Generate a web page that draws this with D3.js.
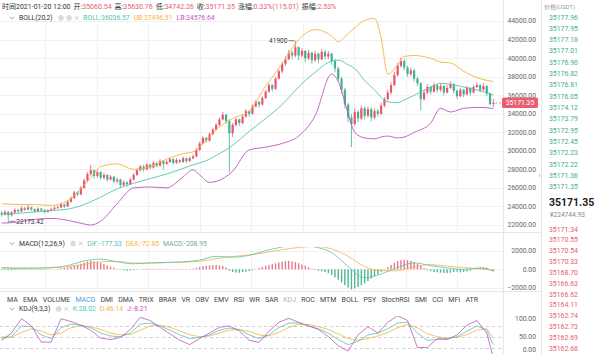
<!DOCTYPE html>
<html><head><meta charset="utf-8">
<script src="https://cdn.jsdelivr.net/npm/d3@7/dist/d3.min.js"></script>
<style>html,body{margin:0;padding:0;background:#fff;overflow:hidden}</style>
</head><body>
<svg id="c" width="600" height="354"></svg>
<script>
// ---------------- DATA ----------------
const headerLabels=["时间","开:","高:","低:","收:","涨幅:","振幅:"];
const headerValues=["2021-01-20 12:00","35060.54","35630.76","34742.26","35171.35","0.33%(115.01)","2.53%"];
const priceTicks=[44000,42000,40000,38000,36000,34000,32000,30000,28000,26000,24000,22000];
const macdTicks=[2000,0,-2000];
const kdjTicks=[100,50,0];
const kdjLevels=[80,50,20];
const tabs=["MA","EMA","VOLUME","MACD","DMI","DMA","TRIX","BRAR","VR","OBV","EMV","RSI","WR","SAR","KDJ","ROC","MTM","BOLL","PSY","StochRSI","SMI","CCI","MFI","ATR"];
const askPrices=["35177.96","35177.95","35177.18","35177.01","35176.90","35176.82","35176.81","35176.05","35174.12","35173.79","35172.95","35172.45","35172.23","35172.22","35171.36","35171.35"];
const bidPrices=["35171.34","35170.55","35170.54","35170.33","35168.70","35166.63","35166.62","35164.11","35162.74","35162.73","35162.69","35162.68"];
const lastPrice=35171.35, lastCny="¥224744.93";
const maxLabel={i:89,v:41900,t:"41900"}, minLabel={i:2,v:22173.42,t:"22173.42"};

const opens=[23300,23150,23400,23050,23350,23600,23450,23800,23650,23900,23700,23500,23750,23600,23400,23550,23700,
23850,23900,24200,24000,24500,24900,25500,25300,26000,26800,27500,
27900,27300,27700,27100,27400,26900,27200,26700,26900,26300,26600,
26400,26900,27400,27900,28300,28000,28500,28200,28700,28400,28900,28600,28800,29100,28700,29000,28800,29200,28900,29200,
29400,30100,30800,31400,31100,31800,32300,32800,33400,33900,33200,
31900,32800,33400,33000,33700,34300,34000,34800,35300,35000,35700,36400,37100,36700,37800,38600,39400,39900,40600,40300,
41200,40300,40800,40000,40600,39800,40500,39900,40700,40200,
40500,39700,38900,37800,36600,35000,33600,
32900,34200,33500,34600,33800,34500,33600,34300,34000,
34900,35600,36300,37100,38200,39200,
39700,39000,38300,38700,37800,37300,
35600,36300,36900,36400,37100,36600,37000,36300,36800,
37200,36500,35900,36600,36100,36800,36300,36900,37100,36600,37000,36200,35060.54];
const closes=[23150,23400,23050,23350,23600,23450,23800,23650,23900,23700,23500,23750,23600,23400,23550,23700,23850,
23900,24200,24000,24500,24900,25500,25300,26000,26800,27500,27900,
27300,27700,27100,27400,26900,27200,26700,26900,26300,26600,26400,
26900,27400,27900,28300,28000,28500,28200,28700,28400,28900,28600,28800,29100,28700,29000,28800,29200,28900,29200,29400,
30100,30800,31400,31100,31800,32300,32800,33400,33900,33200,31900,
32800,33400,33000,33700,34300,34000,34800,35300,35000,35700,36400,37100,36700,37800,38600,39400,39900,40600,40300,41200,
40300,40800,40000,40600,39800,40500,39900,40700,40200,40500,
39700,38900,37800,36600,35000,33600,32900,
34200,33500,34600,33800,34500,33600,34300,34000,34900,
35600,36300,37100,38200,39200,39700,
39000,38300,38700,37800,37300,35600,
36300,36900,36400,37100,36600,37000,36300,36800,37200,
36500,35900,36600,36100,36800,36300,36900,37100,36600,37000,36200,35060.54,35171.35];
const highs=[23500,23600,23500,23500,23800,23750,24000,23950,24200,24000,23800,23900,23850,23700,23700,23850,24000,
24100,24400,24300,24650,25100,25700,25650,26200,27000,27700,28500,
28000,27900,27800,27600,27500,27400,27300,27100,27000,26800,26700,
27100,27600,28100,28500,28500,28700,28600,28900,28800,29100,29000,29000,29300,29200,29200,29100,29400,29300,29400,29600,
30300,31000,31600,31500,32000,32500,33000,33600,34200,34000,33400,
33000,33600,33500,33900,34500,34400,35000,35500,35400,35900,36600,37300,37200,38000,38800,39600,40200,40900,40800,41900,
41300,41100,40900,40900,40700,40800,40600,41000,40900,40800,
40600,39900,39100,38000,36800,35200,34000,
34600,34400,34900,34800,34800,34700,34600,34500,35200,
35800,36600,37400,38500,39500,40100,
39900,39200,39000,38900,38000,37400,
36600,37200,37000,37400,37200,37300,37100,37100,37500,
37300,36600,36800,36700,37000,36900,37100,37400,37200,37300,37100,36300,35630.76];
const lows=[22900,23000,22173.42,22900,23250,23300,23400,23500,23600,23500,23300,23400,23450,23250,23300,23450,23600,
23700,23800,23850,23950,24400,24800,25100,25200,25900,26600,27300,
27000,27100,26900,26900,26700,26800,26500,26500,26100,26200,26100,
26300,26800,27300,27800,27800,27900,28000,28100,28200,28300,28000,28500,28700,28500,28600,28600,28700,28700,28800,29100,
29300,30000,30700,30900,31000,31700,32200,32700,33300,32900,27700,
31500,32600,32700,32900,33600,33700,33900,34700,34700,34900,35600,36300,36400,36600,37700,38400,39200,39800,39900,40100,
39800,40100,39600,39800,39400,39600,39500,39800,39900,39900,
39300,38500,37500,36200,34600,33100,30400,
32700,33100,33300,33400,33600,33200,33400,33700,33900,
34700,35400,36100,37000,38000,39000,
38700,38000,38100,37500,37000,34400,
35400,36100,36100,36300,36300,36400,36000,36200,36700,
36200,35600,35800,35800,36000,36000,36200,36800,36300,36500,35900,34900,34742.26];

const bollIdx=[0,5,10,15,20,25,27,30,35,40,45,50,55,58,60,63,65,70,75,80,85,90,95,100,102,105,107,110,113,115,117,120,122,125,130,133,136,140,145,149];
const bollMB=[23150,23250,23400,23550,23700,24200,24500,25000,25900,26500,27000,27500,28100,28500,28700,29100,29500,30600,32100,33500,35000,36900,38500,39700,39800,39300,38900,37600,36600,35800,35300,35200,35500,36000,36900,37300,37200,36900,36500,36036.57];
const bollUB=[24300,24200,24200,24100,24600,26300,27100,28300,28600,28000,28300,29100,29700,29900,30400,31600,32300,33500,34300,37000,39400,42000,43100,42400,41800,42700,43300,44100,44300,42200,38300,39300,40200,40300,40000,39600,39500,38600,37800,37496.51];
const bollLB=[22200,22300,22600,22700,22500,22100,21980,22400,24300,26000,26100,26000,27200,27950,27400,26600,26700,27800,30100,30400,30800,31600,33800,38300,37500,34000,32000,31400,31300,31500,31600,31400,31500,32000,33000,34600,34200,34600,34700,34576.64];

const macdHist=[-60,-80,-100,-90,-70,-50,-40,-30,-20,-30,-40,-50,-40,-30,-20,-10,
20,60,110,150,220,300,420,480,600,720,850,920,860,800,680,560,430,300,
180,60,-40,-100,-150,-130,-90,-40,10,
40,70,60,80,50,70,40,50,60,30,40,50,30,40,60,80,
150,260,350,380,420,450,470,430,380,
200,-150,-280,-330,-360,-300,-250,-180,-100,
50,150,260,380,480,560,650,740,820,880,900,860,780,650,520,380,240,
80,-60,-150,-200,-280,-400,-600,-850,-1100,-1400,-1700,-1950,-2150,-2050,-1900,-1700,-1500,-1250,-1000,-750,-500,-250,
50,250,480,700,880,1000,1050,980,900,760,600,400,
150,-100,-200,-280,-320,-350,-380,-400,-360,-300,-250,-320,-280,-220,-150,
50,120,200,240,180,20,-208.95];
const macdIdx=[0,5,10,15,20,25,30,35,40,45,50,55,60,65,70,75,80,85,90,95,100,105,110,115,120,125,130,135,140,145,149];
const macdDIF=[150,100,120,180,400,900,1100,800,600,700,750,800,1000,1400,1300,1500,2000,2400,2600,2400,1800,300,-900,-500,200,700,400,150,0,150,-177.33];
const macdDEA=[200,150,140,170,280,550,800,850,680,660,720,770,870,1150,1380,1550,1800,2100,2350,2450,2200,1400,300,-150,-150,300,500,350,200,80,-72.85];

const kdjIdx=[0,3,6,9,12,15,18,21,24,27,30,33,36,39,42,45,48,51,54,57,60,63,66,69,72,75,78,81,84,87,90,93,96,99,102,105,108,111,114,117,120,123,126,129,132,135,138,141,144,147,149];
const kdjK=[45,50,80,78,55,45,75,85,82,75,60,52,50,60,85,88,80,68,55,45,48,55,68,74,70,55,45,55,75,88,88,80,72,60,42,28,38,55,60,72,88,90,60,40,42,45,50,65,80,68,28.02];
const kdjD=[50,48,62,72,66,55,60,75,80,78,70,60,55,56,68,80,82,76,66,55,50,52,60,68,70,65,55,52,62,76,84,84,78,70,58,45,40,45,52,62,75,84,75,58,50,46,48,56,68,72,46.14];
const kdjJ=[40,60,100,80,35,35,100,92,82,68,46,42,48,70,104,95,76,58,40,28,45,60,76,80,66,40,34,65,90,101,90,80,70,50,25,10,55,78,60,90,108,95,20,20,45,42,55,82,95,60,-8.21];

// ---------------- STYLE ----------------
const FONT="Roboto, 'Noto Sans CJK SC', sans-serif";
const C={up:"#e8566d",down:"#3fb28f",teal:"#55c3b6",orange:"#f2b33f",purple:"#c055c0",grid:"#f1f1f1",sep:"#e6e6e6",axis:"#666",text:"#333",red:"#e45c6e",green:"#45ae86"};
const plotR=503;

const svg=d3.select("#c").style("font-family",FONT);
const x=d3.scaleLinear().domain([0,closes.length-1]).range([1.65,493.35]);
const yP=d3.scaleLinear().domain([22000,44000]).range([224.9,21.3]);
const yM=d3.scaleLinear().domain([-2000,2000]).range([288,250.7]);
const yK=d3.scaleLinear().domain([0,100]).range([354.7,318.7]);

// clip paths
const defs=svg.append("defs");
[["cm",0,0,plotR,232],["cd",0,247,plotR,45],["ck",0,316,plotR,40]].forEach(([id,a,b,w,h])=>{
  defs.append("clipPath").attr("id",id).append("rect").attr("x",a).attr("y",b).attr("width",w).attr("height",h);
});

// grid
const g0=svg.append("g");
g0.selectAll(".hg").data(priceTicks).join("line").attr("x1",0).attr("x2",plotR).attr("y1",d=>Math.round(yP(d))+0.5).attr("y2",d=>Math.round(yP(d))+0.5).attr("stroke",C.grid);
const vgrid=d3.range(9).map(k=>45+51.5*k);
g0.selectAll(".vg").data(vgrid).join("line").attr("x1",d=>Math.round(d)+0.5).attr("x2",d=>Math.round(d)+0.5).attr("y1",24).attr("y2",232).attr("stroke",C.grid);
g0.selectAll(".vg2").data(vgrid).join("line").attr("x1",d=>Math.round(d)+0.5).attr("x2",d=>Math.round(d)+0.5).attr("y1",247).attr("y2",291).attr("stroke",C.grid);
g0.selectAll(".mg").data(macdTicks).join("line").attr("x1",0).attr("x2",plotR).attr("y1",d=>Math.round(yM(d))+0.5).attr("y2",d=>Math.round(yM(d))+0.5).attr("stroke",C.grid);
g0.selectAll(".kl").data(kdjLevels).join("line").attr("x1",0).attr("x2",plotR).attr("y1",d=>Math.round(yK(d))+0.5).attr("y2",d=>Math.round(yK(d))+0.5).attr("stroke","#cfcfcf").attr("stroke-dasharray","3,3");

// separators
svg.append("line").attr("x1",plotR+0.5).attr("x2",plotR+0.5).attr("y1",0).attr("y2",354).attr("stroke",C.sep);
svg.append("line").attr("x1",541.5).attr("x2",541.5).attr("y1",0).attr("y2",354).attr("stroke",C.sep);
[232.5,291.5].forEach(yy=>svg.append("line").attr("x1",0).attr("x2",541).attr("y1",yy).attr("y2",yy).attr("stroke",C.sep));

// axes
function yAxis(scale,ticks){
  const ax=svg.append("g").attr("transform","translate(536,0)")
    .call(d3.axisLeft(scale).tickValues(ticks).tickSize(0).tickPadding(0).tickFormat(d=>d3.format(".2f")(d)));
  ax.select(".domain").remove();
  ax.selectAll("text").attr("fill",C.axis).style("font-size","6.8px").style("font-family",FONT);
  // keep labels inside the picture
  ax.selectAll(".tick").attr("transform",d=>`translate(0,${Math.min(scale(d),350)})`);
}
yAxis(yP,priceTicks); yAxis(yM,macdTicks); yAxis(yK,kdjTicks);

// candles
const data=closes.map((c,i)=>({i,o:opens[i],h:highs[i],l:lows[i],c}));
const gc=svg.append("g").attr("clip-path","url(#cm)");
gc.selectAll(".w").data(data).join("line")
  .attr("x1",d=>x(d.i)).attr("x2",d=>x(d.i)).attr("y1",d=>yP(d.h)).attr("y2",d=>yP(d.l))
  .attr("stroke",d=>d.c>=d.o?C.up:C.down).attr("stroke-width",0.8);
gc.selectAll(".b").data(data).join("rect")
  .attr("x",d=>x(d.i)-1.1).attr("width",2.2)
  .attr("y",d=>yP(Math.max(d.o,d.c))).attr("height",d=>Math.max(0.8,Math.abs(yP(d.o)-yP(d.c))))
  .attr("fill",d=>d.c>=d.o?C.up:C.down);

// boll lines
const bl=v=>d3.line().curve(d3.curveMonotoneX).x((d,k)=>x(bollIdx[k])).y(d=>yP(d))(v);
[[bollUB,C.orange],[bollMB,C.teal],[bollLB,C.purple]].forEach(([v,col])=>{
  gc.append("path").attr("d",bl(v)).attr("fill","none").attr("stroke",col).attr("stroke-width",0.9);
});

// max / min labels
svg.append("line").attr("x1",x(maxLabel.i)-7).attr("x2",x(maxLabel.i)-1).attr("y1",yP(maxLabel.v)).attr("y2",yP(maxLabel.v)).attr("stroke","#333").attr("stroke-width",0.6);
svg.append("text").attr("x",x(maxLabel.i)-8).attr("y",yP(maxLabel.v)+2.2).attr("text-anchor","end").attr("fill","#333").style("font-size","6.5px").text(maxLabel.t);
svg.append("line").attr("x1",x(minLabel.i)+1).attr("x2",x(minLabel.i)+7).attr("y1",yP(minLabel.v)-2).attr("y2",yP(minLabel.v)-2).attr("stroke","#333").attr("stroke-width",0.6);
svg.append("text").attr("x",x(minLabel.i)+8).attr("y",yP(minLabel.v)+0.3).attr("fill","#333").style("font-size","6.5px").text(minLabel.t);

// last price tag
const ly=yP(lastPrice);
svg.append("line").attr("x1",x(closes.length-1)+2).attr("x2",plotR).attr("y1",ly).attr("y2",ly).attr("stroke",C.red).attr("stroke-width",0.7).attr("stroke-dasharray","2,1.5");
svg.append("rect").attr("x",plotR-1).attr("y",ly-5.5).attr("width",36).attr("height",10.5).attr("rx",1.5).attr("fill","#e8606f");
svg.append("text").attr("x",plotR+17).attr("y",ly+2.4).attr("text-anchor","middle").attr("fill","#fff").style("font-size","6.8px").text(d3.format(".2f")(lastPrice));

// MACD
const gm=svg.append("g").attr("clip-path","url(#cd)");
gm.selectAll(".h").data(macdHist).join("rect")
  .attr("x",(d,i)=>x(i)-0.7).attr("width",1.4)
  .attr("y",d=>Math.min(yM(0),yM(d))).attr("height",d=>Math.abs(yM(d)-yM(0)))
  .attr("fill",d=>d>=0?"#e8788a":"#4fb592");
const ml=d3.line().curve(d3.curveMonotoneX).x((d,k)=>x(macdIdx[k])).y(d=>yM(d));
gm.append("path").attr("d",ml(macdDEA)).attr("fill","none").attr("stroke",C.orange).attr("stroke-width",0.8);
gm.append("path").attr("d",ml(macdDIF)).attr("fill","none").attr("stroke",C.teal).attr("stroke-width",0.8);

// KDJ
const gk=svg.append("g").attr("clip-path","url(#ck)");
const kl=d3.line().x((d,k)=>x(kdjIdx[k])).y(d=>yK(d));
[[kdjD,C.orange],[kdjK,C.teal],[kdjJ,C.purple]].forEach(([v,col])=>{
  gk.append("path").attr("d",kl(v)).attr("fill","none").attr("stroke",col).attr("stroke-width",0.8);
});

// header
const ht=svg.append("text").attr("x",2).attr("y",9).style("font-size","7px");
ht.append("tspan").attr("fill",C.text).text(headerLabels[0]);
ht.append("tspan").attr("fill",C.text).text(headerValues[0]);
for(let k=1;k<headerLabels.length;k++){
  ht.append("tspan").attr("fill",C.text).attr("dx",3).text(headerLabels[k]);
  ht.append("tspan").attr("fill",C.red).text(headerValues[k]);
}

// legend helper
function chevron(cx,cy){svg.append("path").attr("d",`M${cx-2.2},${cy-1.1}L${cx},${cy+1.1}L${cx+2.2},${cy-1.1}`).attr("fill","none").attr("stroke","#777").attr("stroke-width",0.7);}
function eye(cx,cy){svg.append("circle").attr("cx",cx).attr("cy",cy).attr("r",2.3).attr("fill","none").attr("stroke","#aaa").attr("stroke-width",0.6);svg.append("circle").attr("cx",cx).attr("cy",cy).attr("r",0.9).attr("fill","none").attr("stroke","#aaa").attr("stroke-width",0.6);}
function cross(cx,cy){svg.append("path").attr("d",`M${cx-1.8},${cy-1.8}L${cx+1.8},${cy+1.8}M${cx+1.8},${cy-1.8}L${cx-1.8},${cy+1.8}`).attr("stroke","#aaa").attr("stroke-width",0.6);}
function legend(cy,title,icons,items){
  chevron(12,cy);
  let t=svg.append("text").attr("x",19).attr("y",cy+2.4).attr("fill","#333").style("font-size","6.8px").text(title);
  let px=19+t.node().getComputedTextLength()+6;
  for(let k=0;k<icons;k++){eye(px+2.3,cy);px+=8;}
  cross(px+2,cy); px+=8.5;
  items.forEach(([s,col])=>{const tt=svg.append("text").attr("x",px).attr("y",cy+2.4).attr("fill",col).style("font-size","6.8px").text(s);px+=tt.node().getComputedTextLength()+4;});
}
legend(18,"BOLL(20,2)",2,[["BOLL:36036.57",C.teal],["UB:37496.51",C.orange],["LB:34576.64",C.purple]]);
legend(243.5,"MACD(12,26,9)",1,[["DIF:-177.33",C.teal],["DEA:-72.85",C.orange],["MACD:-208.95","#6fa8a8"]]);
legend(309,"KDJ(9,3,3)",1,[["K:28.02",C.teal],["D:46.14",C.orange],["J:-8.21",C.purple]]);

// tabs
const tg=svg.append("g");
const tnodes=tabs.map(s=>tg.append("text").attr("y",302).style("font-size","7px").attr("fill",s==="MACD"?"#4a9de0":(s==="KDJ"?"#b5b5b5":"#444")).text(s));
const widths=tnodes.map(n=>n.node().getComputedTextLength());
const gap=(478-7-d3.sum(widths))/(tabs.length-1);
let tx=7; tnodes.forEach((n,k)=>{n.attr("x",tx);tx+=widths[k]+gap;});

// order book
svg.append("text").attr("x",544).attr("y",8.5).attr("fill","#999").style("font-size","6px").text("价格(USDT)");
askPrices.forEach((p,k)=>svg.append("text").attr("x",549).attr("y",19.5+k*11.33).attr("fill",C.green).style("font-size","6.9px").text(p));
svg.append("text").attr("x",549).attr("y",206).attr("fill","#222").style("font-size","10.5px").style("font-weight","bold").text(d3.format(".2f")(lastPrice));
svg.append("text").attr("x",550).attr("y",216.5).attr("fill","#888").style("font-size","6.6px").text(lastCny);
bidPrices.forEach((p,k)=>svg.append("text").attr("x",549).attr("y",231.5+k*10.85).attr("fill",C.red).style("font-size","6.9px").text(p));
svg.append("text").attr("x",538.5).attr("y",178).attr("fill","#999").style("font-size","7px").text("›");
</script>
</body></html>
